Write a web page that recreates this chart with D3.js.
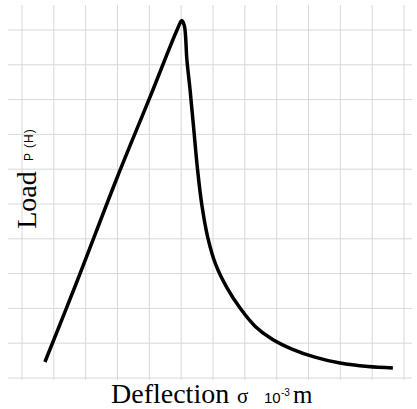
<html>
<head>
<title>Load vs Deflection</title>
<script src="https://d3js.org/d3.v7.min.js"></script>
<style>
body { margin: 0; background: #fff; }
svg { display: block; }
</style>
</head>
<body>
<svg id="chart" width="417" height="409"></svg>
<script type="text/javascript">
// data (grid units)
var deflection = [0.72, 1.73, 2.98, 4.02, 4.87, 5.02, 5.10, 5.18, 5.28, 5.39, 5.51, 5.65, 5.84, 6.09, 6.44, 6.85, 7.32, 7.85, 8.48, 9.20, 9.99, 10.87, 11.65];
var load       = [0.46, 2.78, 5.74, 8.07, 10.0, 10.27, 10.12, 9.14, 8.28, 7.21, 6.03, 4.97, 4.02, 3.25, 2.59, 2.01, 1.49, 1.12, 0.83, 0.60, 0.43, 0.33, 0.29];
var xGrid = [0, 1, 2, 3, 4, 5, 6, 7, 8, 9, 10, 11, 12];
var yGrid = [0, 1, 2, 3, 4, 5, 6, 7, 8, 9, 10];

var width = 417, height = 409;
var svg = d3.select("#chart");

var x = d3.scaleLinear().domain([0, 12]).range([22, 404]);
var y = d3.scaleLinear().domain([0, 10]).range([378, 30]);

// grid
var grid = svg.append("g").attr("stroke", "#d8d8d8").attr("stroke-width", 1);
grid.selectAll("line.v").data(xGrid).enter().append("line")
	.attr("class", "v")
	.attr("x1", function(d){ return x(d); }).attr("x2", function(d){ return x(d); })
	.attr("y1", y(10.72)).attr("y2", y(-0.06));
grid.selectAll("line.h").data(yGrid).enter().append("line")
	.attr("class", "h")
	.attr("x1", x(-0.45)).attr("x2", x(12.25))
	.attr("y1", function(d){ return y(d); }).attr("y2", function(d){ return y(d); });

// curve
var pts = deflection.map(function(d, i){ return [d, load[i]]; });
var line = d3.line()
	.x(function(d){ return x(d[0]); })
	.y(function(d){ return y(d[1]); })
	.curve(d3.curveCatmullRom.alpha(0.5));
svg.append("path")
	.datum(pts)
	.attr("d", line)
	.attr("fill", "none")
	.attr("stroke", "#000")
	.attr("stroke-width", 3.5)
	.attr("stroke-linejoin", "round")
	.attr("stroke-linecap", "butt");

// y label
svg.append("text")
	.attr("transform", "translate(36,200) rotate(-90)")
	.attr("text-anchor", "middle")
	.attr("font-family", "Liberation Serif, serif")
	.attr("font-size", 28)
	.text("Load");
svg.append("text")
	.attr("transform", "translate(33,161) rotate(-90)")
	.attr("font-family", "Liberation Sans, Arial, sans-serif")
	.attr("font-size", 12)
	.attr("letter-spacing", 1)
	.text("P (H)");

// x label
svg.append("text")
	.attr("x", 111).attr("y", 403)
	.attr("font-family", "Liberation Serif, serif")
	.attr("font-size", 28)
	.text("Deflection");
svg.append("text")
	.attr("x", 237).attr("y", 403)
	.attr("font-family", "Liberation Serif, serif")
	.attr("font-size", 21)
	.text("σ");
svg.append("text")
	.attr("x", 264).attr("y", 403)
	.attr("font-family", "Liberation Sans, Arial, sans-serif")
	.attr("font-size", 15)
	.text("10");
svg.append("text")
	.attr("x", 281).attr("y", 396)
	.attr("font-family", "Liberation Sans, Arial, sans-serif")
	.attr("font-size", 10)
	.text("-3");
svg.append("text")
	.attr("x", 293).attr("y", 403)
	.attr("font-family", "Liberation Serif, serif")
	.attr("font-size", 25)
	.text("m");
</script>
</body>
</html>
